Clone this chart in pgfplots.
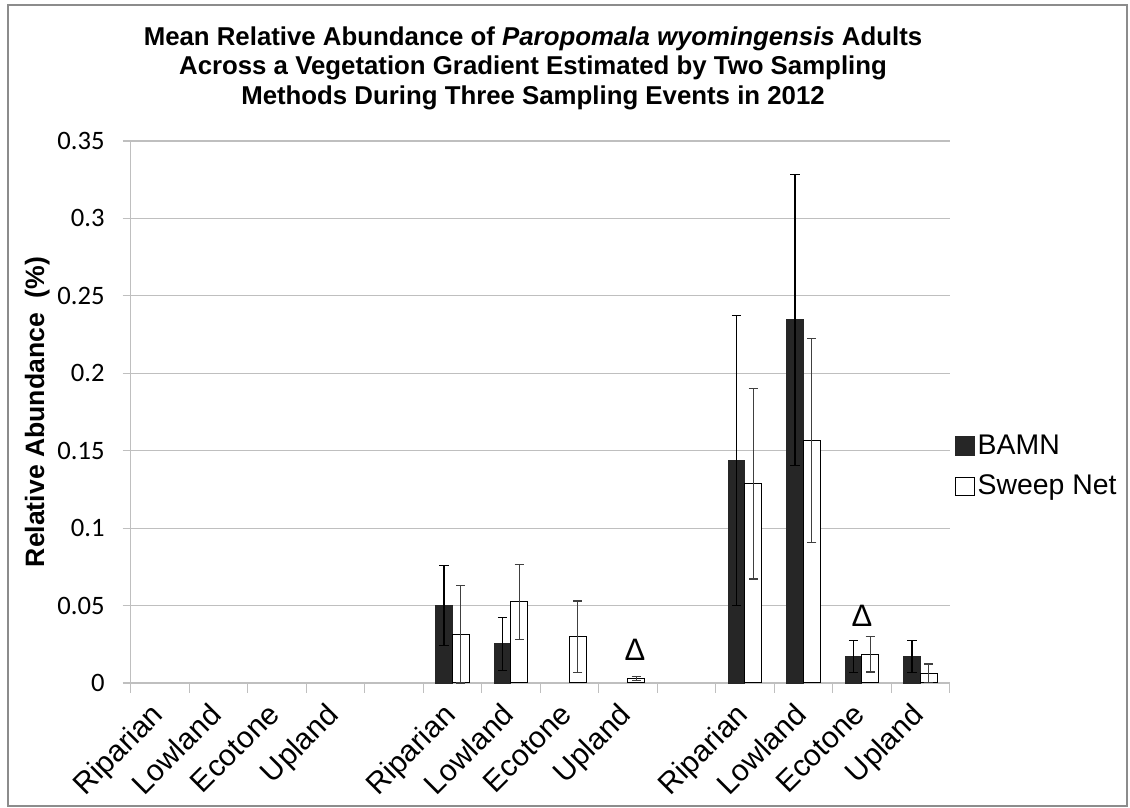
\documentclass[border=0pt]{standalone}
\usepackage{fontspec}
\setmainfont{Liberation Sans}
\newfontfamily\carlito{Carlito}
\usepackage{pgfplots}
\pgfplotsset{compat=1.18}
\definecolor{bamn}{HTML}{262626}
\definecolor{gridgray}{HTML}{BFBFBF}
\definecolor{framegray}{HTML}{8C8C8C}
\begin{document}
\begin{tikzpicture}[x=1pt,y=1pt]
\useasboundingbox (0,0) rectangle (565,404);
\draw[framegray, line width=0.8pt] (4,1) rectangle (563.5,401.5);
\node[align=center, font=\bfseries\fontsize{12.9}{14.75}\selectfont] at (266.5,370)
 {Mean Relative Abundance of \textit{Paropomala wyomingensis} Adults\\
  Across a Vegetation Gradient Estimated by Two Sampling\\
  Methods During Three Sampling Events in 2012};
\begin{axis}[
  at={(65.3pt,62.5pt)}, anchor=south west,
  scale only axis, width=409.5pt, height=271pt,
  xmin=0, xmax=14, ymin=0, ymax=0.35,
  ybar=0pt, bar width=8.35pt,
  axis x line*=bottom, axis y line*=left,
  axis line style={gridgray, line width=0.6pt},
  tick align=outside,
  xtick={0.5,1.5,...,13.5},
  xticklabels={Riparian,Lowland,Ecotone,Upland,,Riparian,Lowland,Ecotone,Upland,,Riparian,Lowland,Ecotone,Upland},
  minor xtick={0,1,...,14},
  every major x tick/.style={draw=none},
  every minor x tick/.style={gridgray, line width=0.6pt},
  minor tick length=5pt,
  major tick length=4pt,
  every major y tick/.style={gridgray, line width=0.6pt},
  ytick={0,0.05,...,0.35},
  yticklabels={0,0.05,0.1,0.15,0.2,0.25,0.3,0.35},
  yticklabel style={font=\carlito\fontsize{13.3}{15}\selectfont, xshift=-5.5pt},
  xticklabel style={font=\fontsize{15}{17}\selectfont, rotate=45, anchor=north east, xshift=-4pt, yshift=3.5pt},
  ymajorgrids, grid style={gridgray, line width=0.6pt},
  ylabel={Relative Abundance\ \ (\%)},
  ylabel style={font=\bfseries\fontsize{13.3}{15}\selectfont},
  ylabel shift=-3pt,
  legend style={at={(1.006,0.400)}, anchor=west, draw=none, fill=none,
    font=\fontsize{14.2}{16}\selectfont, row sep=5pt, inner sep=0pt,
    nodes={inner xsep=1.5pt}},
  legend cell align=left,
  legend image code/.code={\draw[#1, line width=0.5pt] (0pt,-4.7pt) rectangle (9.4pt,4.7pt);},
  clip=false,
]
\addplot[fill=bamn, draw=bamn,
  error bars/.cd, y dir=both, y explicit,
  error bar style={black, line width=0.6pt},
  error mark options={black, line width=0.6pt, mark size=2.3pt, rotate=90}]
  coordinates {
  (5.5,0.0500) +- (0,0.0260)
  (6.5,0.0253) +- (0,0.0170)
  (10.5,0.1438) +- (0,0.0935)
  (11.5,0.2345) +- (0,0.0940)
  (12.5,0.0170) +- (0,0.0103)
  (13.5,0.0170) +- (0,0.0103)
  };
\addlegendentry{BAMN}
\addplot[fill=white, draw=black, line width=0.5pt,
  error bars/.cd, y dir=both, y explicit,
  error bar style={black!75, line width=0.6pt},
  error mark options={black!75, line width=0.6pt, mark size=2.3pt, rotate=90}]
  coordinates {
  (5.5,0.0316) +- (0,0.0316)
  (6.5,0.0524) +- (0,0.0242)
  (7.5,0.0299) +- (0,0.0230)
  (8.5,0.0030) +- (0,0.0013)
  (10.5,0.1287) +- (0,0.0615)
  (11.5,0.1565) +- (0,0.0660)
  (12.5,0.0186) +- (0,0.0115)
  (13.5,0.0063) +- (0,0.0060)
  };
\addlegendentry{Sweep Net}
\node[font=\fontsize{15.5}{17}\selectfont] at (axis cs:8.62,0.0214) {Δ};
\node[font=\fontsize{15.5}{17}\selectfont] at (axis cs:12.5,0.0434) {Δ};
\end{axis}
\end{tikzpicture}
\end{document}
